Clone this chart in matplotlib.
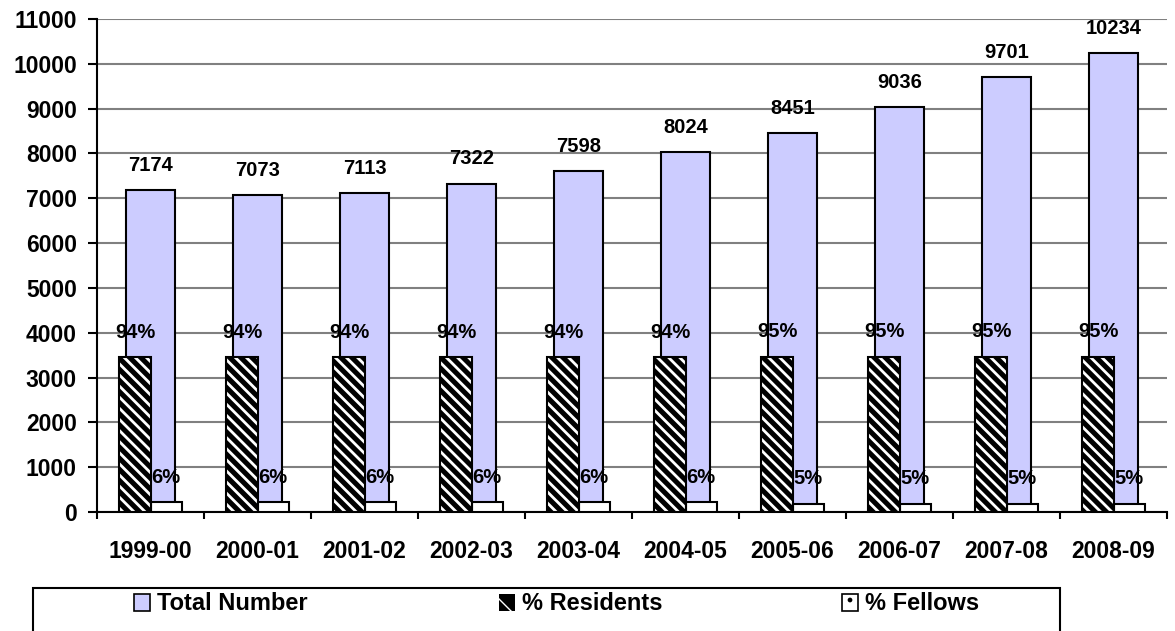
import matplotlib
matplotlib.use("Agg")
import matplotlib.pyplot as plt
import matplotlib.patches as mpatches
import numpy as np

years = ["1999-00", "2000-01", "2001-02", "2002-03", "2003-04",
         "2004-05", "2005-06", "2006-07", "2007-08", "2008-09"]
total = [7174, 7073, 7113, 7322, 7598, 8024, 8451, 9036, 9701, 10234]
residents_pct = [94, 94, 94, 94, 94, 94, 95, 95, 95, 95]
fellows_pct = [6, 6, 6, 6, 6, 6, 5, 5, 5, 5]
# bar heights as drawn in the original chart
residents_h = [3450, 3450, 3450, 3450, 3450, 3450, 3460, 3460, 3460, 3460]
fellows_h = [220, 220, 220, 220, 220, 220, 180, 180, 180, 180]
yticks = list(range(0, 11001, 1000))

plt.rcParams['font.family'] = ['Liberation Sans', 'DejaVu Sans']
plt.rcParams['font.weight'] = 'bold'

W, H = 1175, 631
fig = plt.figure(figsize=(W / 100, H / 100), dpi=100)
ax = fig.add_axes([97 / W, 1 - 512 / H, (1167 - 97) / W, (512 - 19) / H])

x = np.arange(len(years))
ax.set_xlim(-0.5, len(years) - 0.5)
ax.set_ylim(0, 11000)

ax.yaxis.grid(True, color='#808080', lw=1.5)
ax.set_axisbelow(True)
for s in ['top', 'right']:
    ax.spines[s].set_visible(False)
for s in ['left', 'bottom']:
    ax.spines[s].set_color('black')
    ax.spines[s].set_linewidth(1.5)

ax.bar(x, total, width=0.467, color='#CCCCFF', edgecolor='black', lw=1.5, zorder=2)

plt.rcParams['hatch.linewidth'] = 2.0
ax.bar(x - 0.145, residents_h, width=0.29, facecolor='black', edgecolor='white',
       hatch='\\\\\\', lw=0, zorder=3)
ax.bar(x - 0.145, residents_h, width=0.29, facecolor='none', edgecolor='black',
       lw=1.5, zorder=4)
plt.rcParams['hatch.linewidth'] = 1.0
ax.bar(x + 0.145, fellows_h, width=0.29, facecolor='white', edgecolor='black',
       hatch='.', lw=1.5, zorder=3)

for xi, v in zip(x, total):
    ax.annotate(str(v), (xi, v), xytext=(0, 18), textcoords='offset points',
                ha='center', va='center', fontsize=14.5, fontweight='bold')
for xi, v, p in zip(x, residents_h, residents_pct):
    ax.annotate(f"{p}%", (xi - 0.145, v), xytext=(0, 18), textcoords='offset points',
                ha='center', va='center', fontsize=14.5, fontweight='bold', zorder=5)
for xi, v, p in zip(x, fellows_h, fellows_pct):
    ax.annotate(f"{p}%", (xi + 0.145, v), xytext=(0, 18), textcoords='offset points',
                ha='center', va='center', fontsize=14.5, fontweight='bold', zorder=5)

ax.set_yticks(yticks)
ax.set_yticklabels([str(t) for t in yticks], fontsize=16.5, fontweight='bold')
ax.tick_params(axis='y', length=6.5, width=1.5, pad=8, direction='out')
ax.set_xticks(x)
ax.set_xticklabels(years, fontsize=16.5, fontweight='bold')
ax.tick_params(axis='x', which='major', length=0, pad=20)
ax.set_xticks(np.arange(-0.5, len(years) + 0.5, 1), minor=True)
ax.tick_params(axis='x', which='minor', length=5, width=1.5, direction='out')

# legend frame
frame = mpatches.Rectangle((33 / W, -0.05), (1060 - 33) / W, 1 - 588 / H + 0.05,
                           transform=fig.transFigure, fill=False, edgecolor='black',
                           lw=1.5, clip_on=False)
fig.add_artist(frame)

plt.rcParams['hatch.linewidth'] = 3.0
h_total = mpatches.Patch(facecolor='#CCCCFF', edgecolor='black', lw=1.2)
h_res = mpatches.Patch(facecolor='black', edgecolor='white', hatch='\\', lw=0)
plt.rcParams['hatch.linewidth'] = 1.0
h_fel = mpatches.Patch(facecolor='white', edgecolor='black', hatch='.', lw=1.2)

for h, lab, xp in [(h_total, "Total Number", 122), (h_res, "% Residents", 487),
                   (h_fel, "% Fellows", 830)]:
    fig.legend([h], [lab], loc='center left', bbox_to_anchor=(xp / W, 1 - 604 / H),
               frameon=False, handlelength=0.7, handleheight=0.7, handletextpad=0.3,
               borderpad=0, prop={'size': 17, 'weight': 'bold'})

fig.savefig("out.png", dpi=100)
